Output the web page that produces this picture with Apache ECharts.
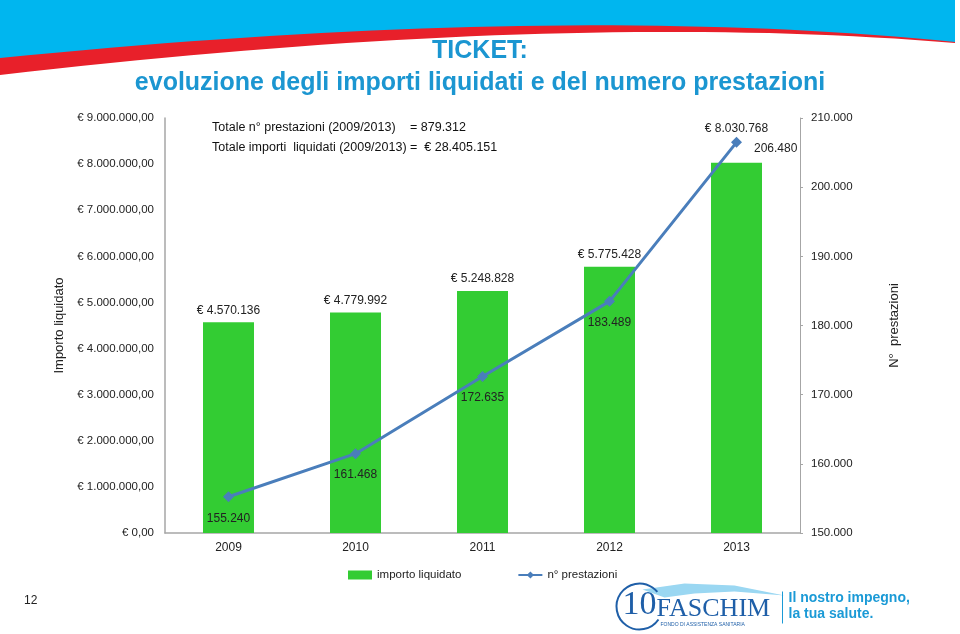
<!DOCTYPE html>
<html>
<head>
<meta charset="utf-8">
<script src="https://cdn.jsdelivr.net/npm/echarts@6/dist/echarts.min.js"></script>
<style>
  html, body { margin: 0; padding: 0; background: #fff; }
  #chart { width: 960px; height: 634px; }
</style>
</head>
<body>
<div id="chart"></div>
<script>
// dati
var anni = ["2009", "2010", "2011", "2012", "2013"];
var importi = [4570136, 4779992, 5248828, 5775428, 8030768];
var prestazioni = [155240, 161468, 172635, 183489, 206480];

var FONT = "'Liberation Sans', sans-serif";

// formato italiano: 1.234.567,00
function fmtIt(n, dec) {
  var s = Number(n).toFixed(dec || 0);
  var parts = s.split(".");
  var int = parts[0].replace(/\B(?=(\d{3})+(?!\d))/g, ".");
  return parts.length > 1 ? int + "," + parts[1] : int;
}

// curva per la fascia decorativa in alto
function curve(p0, c, p2, n) {
  var pts = [];
  for (var i = 0; i <= n; i++) {
    var t = i / n, u = 1 - t;
    pts.push([u * u * p0[0] + 2 * u * t * c[0] + t * t * p2[0],
              u * u * p0[1] + 2 * u * t * c[1] + t * t * p2[1]]);
  }
  return pts;
}
var redEdge = curve([0, 75], [560, 10], [955, 43], 40);
var blueEdge = curve([0, 58], [560, 2], [955, 42], 40);
var redPts = [[955, 0], [0, 0]].concat(redEdge);
var bluePts = [[955, 0], [0, 0]].concat(blueEdge);

var chart = echarts.init(document.getElementById("chart"));

var option = {
  backgroundColor: "#fff",
  animation: false,
  textStyle: { fontFamily: FONT },
  graphic: [
    { type: "polygon", shape: { points: redPts }, style: { fill: "#e8202a" }, silent: true },
    { type: "polygon", shape: { points: bluePts }, style: { fill: "#00b6ef" }, silent: true },
    {
      type: "text", left: "center", top: 39,
      style: { text: "TICKET:", font: "bold 25px " + FONT, fill: "#1b96d1" }
    },
    {
      type: "text", left: "center", top: 71,
      style: { text: "evoluzione degli importi liquidati e del numero prestazioni", font: "bold 25px " + FONT, fill: "#1b96d1" }
    },
    // totali
    { type: "text", left: 212, top: 121, style: { text: "Totale n° prestazioni (2009/2013)", font: "12.5px " + FONT, fill: "#111" } },
    { type: "text", left: 410, top: 121, style: { text: "= 879.312", font: "12.5px " + FONT, fill: "#111" } },
    { type: "text", left: 212, top: 141, style: { text: "Totale importi  liquidati (2009/2013) =  € 28.405.151", font: "12.5px " + FONT, fill: "#111" } },
    // numero pagina
    { type: "text", left: 24, top: 595, style: { text: "12", font: "12px " + FONT, fill: "#222" } },
    // logo
    {
      type: "group", left: 614, top: 581,
      children: [
        { type: "polygon", shape: { points: [[28, 8], [70, 2], [120, 4], [170, 14], [120, 10], [80, 12], [50, 16]] }, style: { fill: "#9ad7f2" } },
        { type: "arc", shape: { cx: 25, cy: 25, r: 23, startAngle: 0.6, endAngle: 5.6 }, style: { stroke: "#1f5fa8", lineWidth: 2, fill: null } },
        { type: "text", left: 8, top: 7, style: { text: "10", font: "34px 'Liberation Serif', serif", fill: "#1f5fa8" } },
        { type: "text", left: 42, top: 15, style: { text: "FASCHIM", font: "26px 'Liberation Serif', serif", fill: "#1f5fa8" } },
        { type: "text", left: 46, top: 41, style: { text: "FONDO DI ASSISTENZA SANITARIA", font: "5px sans-serif", fill: "#1f5fa8" } },
        { type: "line", shape: { x1: 168, y1: 10, x2: 168, y2: 42 }, style: { stroke: "#1b9ad6", lineWidth: 1 } },
        { type: "text", left: 174, top: 10, style: { text: "Il nostro impegno,", font: "bold 14px " + FONT, fill: "#1b9ad6" } },
        { type: "text", left: 174, top: 26, style: { text: "la tua salute.", font: "bold 14px " + FONT, fill: "#1b9ad6" } }
      ]
    }
  ],
  legend: {
    left: 343,
    top: 564,
    itemGap: 56,
    itemWidth: 24,
    itemHeight: 9,
    textStyle: { fontSize: 11.5, color: "#222", fontFamily: FONT },
    data: [
      { name: "importo liquidato", icon: "rect" },
      { name: "n° prestazioni" }
    ]
  },
  grid: { left: 165, right: 160, top: 118, bottom: 101 },
  xAxis: {
    type: "category",
    data: anni,
    axisLine: { lineStyle: { color: "#a6a6a6", width: 1.5 } },
    axisTick: { show: false },
    axisLabel: { color: "#222", fontSize: 12, margin: 9 }
  },
  yAxis: [
    {
      type: "value",
      min: 0, max: 9000000, interval: 1000000,
      name: "Importo liquidato",
      nameLocation: "middle",
      nameRotate: 90,
      nameGap: 90,
      nameTextStyle: { fontSize: 13, color: "#222" },
      axisLine: { show: true, lineStyle: { color: "#a6a6a6", width: 1.5 } },
      axisTick: { show: false },
      splitLine: { show: false },
      axisLabel: { color: "#222", fontSize: 11.5, margin: 11, formatter: function (v) { return "€ " + fmtIt(v, 2); } }
    },
    {
      type: "value",
      min: 150000, max: 210000, interval: 10000,
      position: "right",
      name: "N°  prestazioni",
      nameLocation: "middle",
      nameRotate: 90,
      nameGap: 88,
      nameTextStyle: { fontSize: 13, color: "#222" },
      axisLine: { show: true, lineStyle: { color: "#a6a6a6", width: 1 } },
      axisTick: { show: true, length: 3, lineStyle: { color: "#a6a6a6" } },
      splitLine: { show: false },
      axisLabel: { color: "#222", fontSize: 11.5, margin: 11, formatter: function (v) { return fmtIt(v, 0); } }
    }
  ],
  series: [
    {
      name: "importo liquidato",
      type: "bar",
      yAxisIndex: 0,
      barWidth: 51,
      itemStyle: { color: "#33cc33" },
      data: importi.map(function (v, i) {
        var d = { value: v };
        if (i === importi.length - 1) d.label = { distance: 28 };
        return d;
      }),
      label: {
        show: true,
        position: "top",
        distance: 6,
        color: "#222",
        fontSize: 12,
        formatter: function (p) { return "€ " + fmtIt(p.value, 0); }
      }
    },
    {
      name: "n° prestazioni",
      type: "line",
      yAxisIndex: 1,
      symbol: "diamond",
      symbolSize: 11,
      lineStyle: { color: "#4a7ebb", width: 3 },
      itemStyle: { color: "#4a7ebb" },
      data: prestazioni.map(function (v, i) {
        var d = { value: v };
        if (i === prestazioni.length - 1) d.label = { position: "right", offset: [0, 6], distance: 12 };
        return d;
      }),
      label: {
        show: true,
        position: "bottom",
        distance: 10,
        color: "#222",
        fontSize: 12,
        formatter: function (p) { return fmtIt(p.value, 0); }
      }
    }
  ]
};

chart.setOption(option);
</script>
</body>
</html>
